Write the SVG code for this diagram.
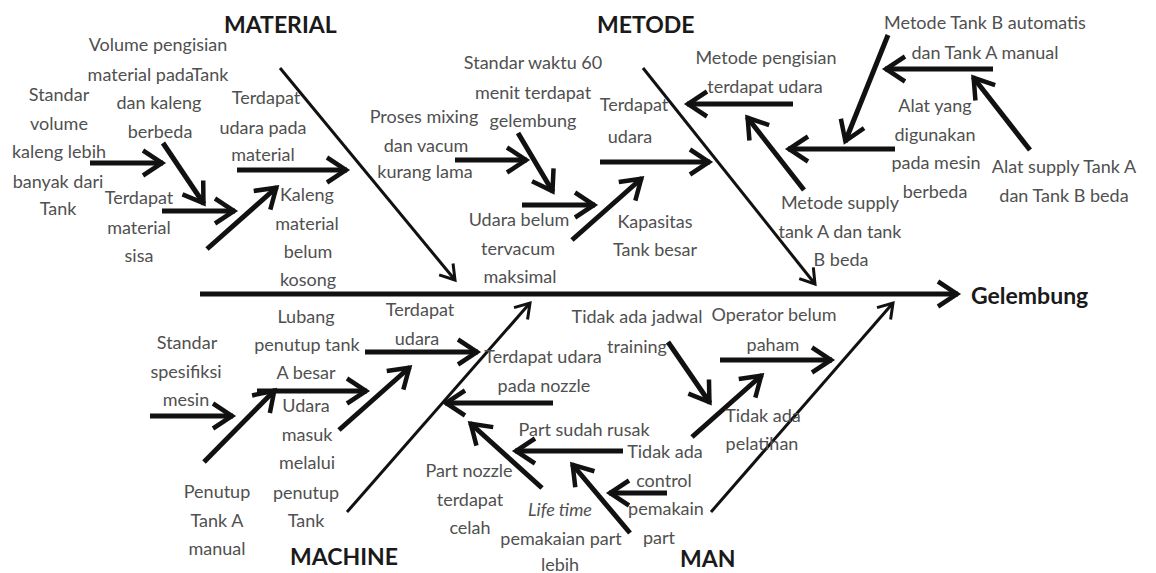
<svg xmlns="http://www.w3.org/2000/svg" width="1156" height="573" viewBox="0 0 1156 573">
<defs>
<style>
.t{font-family:Lato,"Open Sans","Liberation Sans",sans-serif;font-size:18px;fill:#505050;text-anchor:middle}
.i{font-style:italic}
.h{font-family:Lato,"Open Sans","Liberation Sans",sans-serif;font-size:23px;font-weight:bold;fill:#1a1a1a}
.a{stroke:#111;stroke-width:5;fill:none;marker-end:url(#big)}
.b{stroke:#111;stroke-width:3;fill:none;marker-end:url(#thin)}
</style>
<marker id="big" viewBox="-4 -4 30 34" refX="21" refY="12.5" markerWidth="30" markerHeight="34" markerUnits="userSpaceOnUse" orient="auto" overflow="visible">
<path d="M1,0 L20,12.5 L1,25" fill="none" stroke="#111" stroke-width="4.5"/>
</marker>
<marker id="thin" viewBox="-4 -4 24 26" refX="15" refY="9" markerWidth="24" markerHeight="26" markerUnits="userSpaceOnUse" orient="auto" overflow="visible">
<path d="M1,0 L15,9 L1,18" fill="none" stroke="#111" stroke-width="3"/>
</marker>
</defs>
<rect width="1156" height="573" fill="#fff"/>

<g id="connectors">
<line class="a" x1="200" y1="294" x2="958" y2="294"/>
<line class="b" x1="280" y1="68" x2="455" y2="280"/>
<line class="b" x1="643" y1="68" x2="815" y2="284"/>
<line class="b" x1="347" y1="512" x2="530" y2="303"/>
<line class="b" x1="711" y1="512" x2="893" y2="303"/>
<line class="a" x1="90" y1="163" x2="163" y2="163"/>
<line class="a" x1="163" y1="143" x2="204" y2="204"/>
<line class="a" x1="162" y1="211" x2="235" y2="211"/>
<line class="a" x1="207" y1="249" x2="277" y2="187"/>
<line class="a" x1="237" y1="170" x2="347" y2="170"/>
<line class="a" x1="455" y1="160" x2="527" y2="160"/>
<line class="a" x1="518" y1="133" x2="553" y2="192"/>
<line class="a" x1="522" y1="205" x2="595" y2="205"/>
<line class="a" x1="572" y1="240" x2="642" y2="178"/>
<line class="a" x1="600" y1="162" x2="710" y2="162"/>
<line class="a" x1="793" y1="104" x2="687" y2="104"/>
<line class="a" x1="804" y1="190" x2="747" y2="117"/>
<line class="a" x1="895" y1="149" x2="788" y2="149"/>
<line class="a" x1="888" y1="35" x2="845" y2="142"/>
<line class="a" x1="993" y1="69" x2="885" y2="69"/>
<line class="a" x1="1030" y1="150" x2="973" y2="77"/>
<line class="a" x1="150" y1="416" x2="233" y2="416"/>
<line class="a" x1="204" y1="462" x2="275" y2="390"/>
<line class="a" x1="257" y1="391" x2="367" y2="391"/>
<line class="a" x1="339" y1="430" x2="410" y2="367"/>
<line class="a" x1="365" y1="352" x2="478" y2="352"/>
<line class="a" x1="553" y1="403" x2="445" y2="403"/>
<line class="a" x1="542" y1="488" x2="470" y2="423"/>
<line class="a" x1="623" y1="451" x2="515" y2="451"/>
<line class="a" x1="630" y1="533" x2="572" y2="464"/>
<line class="a" x1="667" y1="493" x2="609" y2="493"/>
<line class="a" x1="668" y1="342" x2="710" y2="403"/>
<line class="a" x1="692" y1="437" x2="762" y2="375"/>
<line class="a" x1="720" y1="360" x2="832" y2="360"/>
</g>

<g id="effect"><text class="h" x="971" y="304">Gelembung</text></g>
<g id="cat-material"><text class="h" x="224" y="33">MATERIAL</text></g>
<g id="cat-metode"><text class="h" x="597" y="33">METODE</text></g>
<g id="cat-machine"><text class="h" x="290" y="565">MACHINE</text></g>
<g id="cat-man"><text class="h" x="680" y="567">MAN</text></g>

<g id="m1" class="t"><text x="59" y="101">Standar</text><text x="59" y="130">volume</text><text x="59" y="158">kaleng lebih</text><text x="58" y="188">banyak dari</text><text x="58" y="215">Tank</text></g>
<g id="m2"><text class="t" x="158" y="51">Volume pengisian</text><text class="t" x="158" y="81">material padaTank</text><text class="t" x="159" y="109">dan kaleng</text><text class="t" x="160" y="138">berbeda</text></g>
<g id="m3"><text class="t" x="139" y="204">Terdapat</text><text class="t" x="139" y="234">material</text><text class="t" x="139" y="262">sisa</text></g>
<g id="m4"><text class="t" x="266" y="104">Terdapat</text><text class="t" x="263" y="134">udara pada</text><text class="t" x="263" y="161">material</text></g>
<g id="m5"><text class="t" x="307" y="201">Kaleng</text><text class="t" x="307" y="230">material</text><text class="t" x="308" y="258">belum</text><text class="t" x="308" y="286">kosong</text></g>

<g id="d1"><text class="t" x="533" y="69">Standar waktu 60</text><text class="t" x="533" y="99">menit terdapat</text><text class="t" x="533" y="127">gelembung</text></g>
<g id="d2"><text class="t" x="424" y="123">Proses mixing</text><text class="t" x="426" y="152">dan vacum</text><text class="t" x="425" y="178">kurang lama</text></g>
<g id="d3"><text class="t" x="519" y="226">Udara belum</text><text class="t" x="518" y="255">tervacum</text><text class="t" x="520" y="283">maksimal</text></g>
<g id="d4"><text class="t" x="634" y="111">Terdapat</text><text class="t" x="630" y="143">udara</text></g>
<g id="d5"><text class="t" x="655" y="228">Kapasitas</text><text class="t" x="655" y="256">Tank besar</text></g>
<g id="d6"><text class="t" x="766" y="64">Metode pengisian</text><text class="t" x="765" y="93">terdapat udara</text></g>
<g id="d7"><text class="t" x="840" y="209">Metode supply</text><text class="t" x="840" y="238">tank A dan tank</text><text class="t" x="841" y="266">B beda</text></g>
<g id="d8"><text class="t" x="985" y="29">Metode Tank B automatis</text><text class="t" x="985" y="59">dan Tank A manual</text></g>
<g id="d9"><text class="t" x="935" y="112">Alat yang</text><text class="t" x="935" y="141">digunakan</text><text class="t" x="936" y="169">pada mesin</text><text class="t" x="935" y="198">berbeda</text></g>
<g id="d10"><text class="t" x="1064" y="173">Alat supply Tank A</text><text class="t" x="1064" y="202">dan Tank B beda</text></g>

<g id="c1"><text class="t" x="187" y="349">Standar</text><text class="t" x="186" y="378">spesifiksi</text><text class="t" x="186" y="406">mesin</text></g>
<g id="c2"><text class="t" x="217" y="498">Penutup</text><text class="t" x="217" y="527">Tank A</text><text class="t" x="217" y="555">manual</text></g>
<g id="c3"><text class="t" x="306" y="323">Lubang</text><text class="t" x="307" y="351">penutup tank</text><text class="t" x="306" y="379">A besar</text></g>
<g id="c4"><text class="t" x="306" y="412">Udara</text><text class="t" x="307" y="441">masuk</text><text class="t" x="307" y="469">melalui</text><text class="t" x="306" y="499">penutup</text><text class="t" x="306" y="527">Tank</text></g>
<g id="c5"><text class="t" x="420" y="316">Terdapat</text><text class="t" x="417" y="345">udara</text></g>

<g id="n1"><text class="t" x="543" y="363">Terdapat udara</text><text class="t" x="544" y="392">pada nozzle</text></g>
<g id="n2"><text class="t" x="584" y="436">Part sudah rusak</text></g>
<g id="n3"><text class="t" x="469" y="477">Part nozzle</text><text class="t" x="470" y="506">terdapat</text><text class="t" x="470" y="534">celah</text></g>
<g id="n4"><text class="t i" x="560" y="516">Life time</text><text class="t" x="561" y="545">pemakaian part</text><text class="t" x="560" y="571">lebih</text></g>
<g id="n5"><text class="t" x="665" y="458">Tidak ada</text><text class="t" x="664" y="487">control</text><text class="t" x="666" y="515">pemakain</text><text class="t" x="659" y="544">part</text></g>
<g id="n6"><text class="t" x="637" y="323">Tidak ada jadwal</text><text class="t" x="637" y="353">training</text></g>
<g id="n7"><text class="t" x="774" y="321">Operator belum</text><text class="t" x="773" y="351">paham</text></g>
<g id="n8"><text class="t" x="763" y="422">Tidak ada</text><text class="t" x="762" y="450">pelatihan</text></g>
</svg>
